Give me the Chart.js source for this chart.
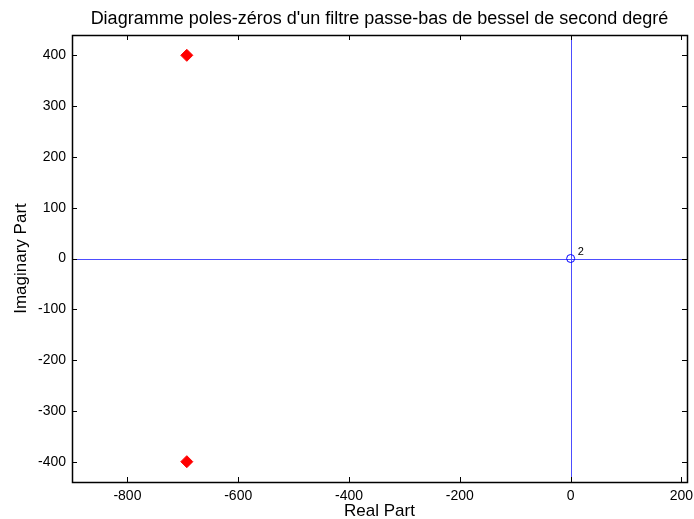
<!DOCTYPE html>
<html>
<head>
<meta charset="utf-8">
<script src="https://cdn.jsdelivr.net/npm/chart.js@4/dist/chart.umd.min.js"></script>
<style>
html,body{margin:0;padding:0;background:#fff;}
#wrap{width:694px;height:519px;}
</style>
</head>
<body>
<div id="wrap"><canvas id="c" width="694" height="519"></canvas></div>
<script>
const chartTitle = "Diagramme poles-zéros d'un filtre passe-bas de bessel de second degré";
const xLabel = "Real Part";
const yLabel = "Imaginary Part";
const xRange = [-900, 210];
const yRange = [-440, 440];
const xTicks = [-800, -600, -400, -200, 0, 200];
const yTicks = [-400, -300, -200, -100, 0, 100, 200, 300, 400];
const poleReal = [-692.8, -692.8];
const poleImag = [400, -400];
const zeroReal = [0];
const zeroImag = [0];
const zeroMultiplicity = ["2"];

const FONT = "'Liberation Sans', Arial, Helvetica, sans-serif";

const boxTicks = {
  id: 'boxTicks',
  beforeDatasetsDraw(chart) {
    const {ctx, chartArea: a, scales: {x, y}} = chart;
    ctx.save();
    ctx.strokeStyle = '#4d4dff';
    ctx.lineWidth = 1;
    const x0 = Math.round(x.getPixelForValue(0)) + 0.5;
    const y0 = Math.round(y.getPixelForValue(0)) + 0.5;
    ctx.beginPath();
    ctx.moveTo(x0, a.top); ctx.lineTo(x0, a.bottom);
    ctx.moveTo(a.left, y0); ctx.lineTo(a.right, y0);
    ctx.stroke();
    ctx.restore();
  },
  afterDraw(chart) {
    const {ctx, chartArea: a, scales: {x, y}} = chart;
    ctx.save();
    ctx.strokeStyle = '#000';
    ctx.lineWidth = 1;
    const L = 5;
    ctx.beginPath();
    x.ticks.forEach(t => {
      const px = Math.round(x.getPixelForValue(t.value)) + 0.5;
      ctx.moveTo(px, a.bottom); ctx.lineTo(px, a.bottom - L);
      ctx.moveTo(px, a.top); ctx.lineTo(px, a.top + L);
    });
    y.ticks.forEach(t => {
      const py = Math.round(y.getPixelForValue(t.value)) + 0.5;
      ctx.moveTo(a.left, py); ctx.lineTo(a.left + L, py);
      ctx.moveTo(a.right, py); ctx.lineTo(a.right - L, py);
    });
    ctx.stroke();
    ctx.lineWidth = 1.5;
    ctx.strokeRect(Math.round(a.left)+0.5, Math.round(a.top)+0.5, Math.round(a.right-a.left), Math.round(a.bottom-a.top));
    ctx.fillStyle = '#000';
    ctx.font = '11px ' + FONT;
    ctx.textBaseline = 'middle';
    ctx.textAlign = 'left';
    zeroReal.forEach((zr, i) => {
      ctx.fillText(zeroMultiplicity[i], x.getPixelForValue(zr) + 7, y.getPixelForValue(zeroImag[i]) - 7);
    });
    ctx.restore();
  }
};

new Chart(document.getElementById('c'), {
  type: 'scatter',
  data: {
    datasets: [
      {
        label: 'Poles',
        data: poleReal.map((r, i) => ({x: r, y: poleImag[i]})),
        pointStyle: 'rectRot',
        pointRadius: 6,
        backgroundColor: '#ff0000',
        borderColor: '#ff0000',
        borderWidth: 1
      },
      {
        label: 'Zeros',
        data: zeroReal.map((r, i) => ({x: r, y: zeroImag[i]})),
        pointStyle: 'circle',
        pointRadius: 4,
        backgroundColor: 'rgba(0,0,0,0)',
        borderColor: '#0000ff',
        borderWidth: 1
      }
    ]
  },
  options: {
    responsive: false,
    animation: false,
    layout: {padding: {left: 0, right: 7, top: 0, bottom: 0}},
    plugins: {
      legend: {display: false},
      tooltip: {enabled: false},
      title: {
        display: true,
        text: chartTitle,
        fullSize: false,
        color: '#000',
        font: {family: FONT, size: 18, weight: 'normal', lineHeight: 1.2},
        padding: {top: 8, bottom: 5.4}
      }
    },
    scales: {
      x: {
        type: 'linear',
        min: xRange[0], max: xRange[1],
        afterBuildTicks: s => { s.ticks = xTicks.map(v => ({value: v})); },
        afterFit: s => { s.height = 37; s.paddingLeft = 0; s.paddingRight = 0; },
        grid: {display: false, drawTicks: false},
        border: {display: false},
        ticks: {color: '#000', padding: 6, font: {family: FONT, size: 14}, maxRotation: 0, autoSkip: false},
        title: {display: true, text: xLabel, color: '#000', font: {family: FONT, size: 17, lineHeight: 0.85}, padding: {top: 0, bottom: 0}}
      },
      y: {
        type: 'linear',
        min: yRange[0], max: yRange[1],
        afterBuildTicks: s => { s.ticks = yTicks.map(v => ({value: v})); },
        afterFit: s => { s.width = 72; s.paddingTop = 0; s.paddingBottom = 0; },
        grid: {display: false, drawTicks: false},
        border: {display: false},
        ticks: {color: '#000', padding: 6, font: {family: FONT, size: 14}, autoSkip: false},
        title: {display: true, text: yLabel, color: '#000', font: {family: FONT, size: 17, lineHeight: 1.2}, padding: {top: 11, bottom: 0}}
      }
    }
  },
  plugins: [boxTicks]
});
</script>
</body>
</html>
